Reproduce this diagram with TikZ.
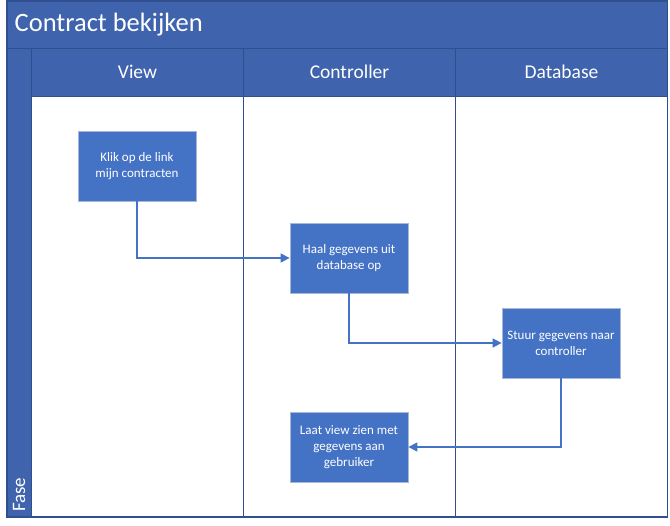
\documentclass[tikz,border=0pt]{standalone}
\usepackage{fontspec}
\setmainfont{Carlito}
\usepackage{tikz}
\usetikzlibrary{shapes,arrows,arrows.meta,positioning}
\definecolor{laneblue}{HTML}{3F63AD}
\definecolor{boxblue}{HTML}{4472C4}
\definecolor{edgeblue}{HTML}{2F4F8F}
\definecolor{boxedge}{HTML}{A9B8D8}
\tikzstyle{lane head} = [rectangle, fill=laneblue, draw=edgeblue, text=white, outer sep=0pt, inner sep=0pt, minimum width=212pt, minimum height=48.5pt, font=\fontsize{19.5}{23}\selectfont]
\tikzstyle{lane body} = [rectangle, draw=edgeblue, line width=0.9pt, outer sep=0pt, minimum width=212pt, minimum height=420.5pt]
\tikzstyle{step box} = [rectangle, fill=boxblue, draw=boxedge, line width=0.8pt, text=white, align=center, minimum width=118pt, minimum height=70pt, font=\fontsize{13}{16}\selectfont]
\tikzstyle{arrow} = [draw=boxblue, line width=1.5pt, -{Triangle[length=9pt,width=9pt]}]

\begin{document}
\begin{tikzpicture}[x=1pt,y=-1pt]
        \useasboundingbox (0,0) rectangle (670,526);

        % title bar and phase column
        \node (title) [rectangle, fill=laneblue, draw=edgeblue, outer sep=0pt, minimum width=660pt, minimum height=47pt, anchor=north west] at (7,1) { };
        \node (titlet) [anchor=west, text=white, inner sep=0pt, font=\fontsize{26.5}{30}\selectfont] at (14.5,25) {Contract bekijken};
        \node (fase) [rectangle, fill=laneblue, draw=edgeblue, outer sep=0pt, minimum width=24.5pt, minimum height=469pt, anchor=north west] at (7,48) { };
        \node (faset) [rotate=90, anchor=west, text=white, inner sep=0pt, font=\fontsize{19}{23}\selectfont] at (19,512) {Fase};

        % lanes
        \node (viewhead) [lane head, anchor=north west] at (31.5,48) {View};
        \node (ctrlhead) [lane head, right=0pt of viewhead] {Controller};
        \node (dbhead) [lane head, right=0pt of ctrlhead] {Database};
        \node (viewlane) [lane body, below=0pt of viewhead] { };
        \node (ctrllane) [lane body, below=0pt of ctrlhead] { };
        \node (dblane) [lane body, below=0pt of dbhead] { };
        \draw [edgeblue, line width=1.3pt] (title.north west) rectangle (dblane.south east);

        % steps
        \node (klik) [step box] at (137,166) {Klik op de link\\mijn contracten};
        \node (haal) [step box] at (349,258) {Haal gegevens uit\\database op};
        \node (stuur) [step box] at (561,343) {Stuur gegevens naar\\controller};
        \node (laat) [step box] at (349,447) {Laat view zien met\\gegevens aan\\gebruiker};

        \draw [arrow] (klik.south) |- (haal.west);
        \draw [arrow] (haal.south) |- (stuur.west);
        \draw [arrow] (stuur.south) |- (laat.east);

    \end{tikzpicture}
\end{document}
